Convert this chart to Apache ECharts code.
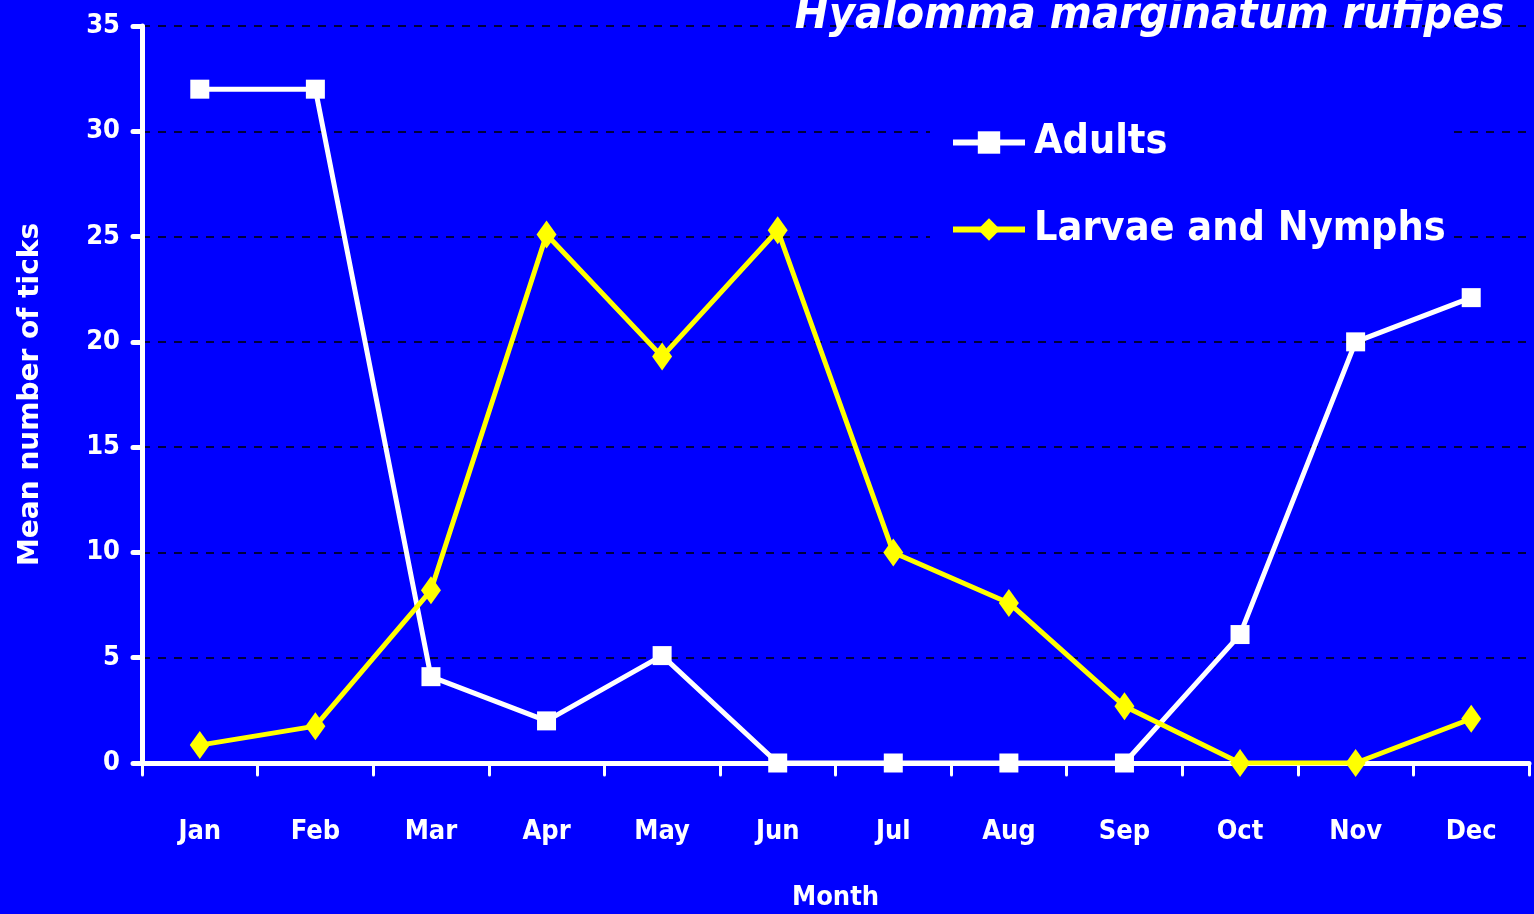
<!DOCTYPE html>
<html>
<head>
<meta charset="utf-8">
<script src="https://cdn.jsdelivr.net/npm/echarts@6/dist/echarts.min.js"></script>
<style>
html,body{margin:0;padding:0;background:#0000FF;}
#c{width:1534px;height:914px;}
</style>
</head>
<body>
<div id="c"></div>
<script>
const months = ['Jan','Feb','Mar','Apr','May','Jun','Jul','Aug','Sep','Oct','Nov','Dec'];
const adults = [32, 32, 4.1, 2.0, 5.1, 0, 0, 0, 0, 6.1, 20, 22.1];
const larvaeNymphs = [0.85, 1.75, 8.2, 25.1, 19.3, 25.3, 10, 7.6, 2.7, 0, 0, 2.1];
const yTicks = {min: 0, max: 35, interval: 5};
const FONT = '"DejaVu Sans", sans-serif';
const COND = '"DejaVu Sans Condensed", "DejaVu Sans", sans-serif';

const chart = echarts.init(document.getElementById('c'));
chart.setOption({
  backgroundColor: '#0000FF',
  animation: false,
  title: {
    text: 'Hyalomma marginatum rufipes',
    right: 25,
    top: -11,
    textStyle: {color: '#fff', fontSize: 45, fontStyle: 'italic', fontWeight: 'bold', fontFamily: COND}
  },
  grid: {left: 142, right: 5, top: 26, bottom: 151, containLabel: false, outerBoundsMode: 'none'},
  legend: {
    orient: 'vertical',
    left: 930,
    top: 114,
    itemGap: 46,
    itemWidth: 72,
    itemHeight: 28,
    backgroundColor: '#0000FF',
    padding: [8, 2, 8, 20],
    textStyle: {color: '#fff', fontSize: 41, fontWeight: 'bold', fontFamily: COND, padding: [0,0,0,4]},
    data: [
      {name: 'Adults', lineStyle: {width: 6, color: '#fff'}},
      {name: 'Larvae and Nymphs', lineStyle: {width: 6, color: '#ffff00'}}
    ]
  },
  xAxis: {
    type: 'category',
    data: months,
    boundaryGap: true,
    name: 'Month',
    nameLocation: 'middle',
    nameGap: 121,
    nameTextStyle: {color: '#fff', fontSize: 27, fontWeight: 'bold', fontFamily: COND},
    axisLine: {lineStyle: {color: '#fff', width: 5, cap: 'round'}},
    axisTick: {show: true, alignWithLabel: false, length: 12, inside: false, lineStyle: {color: '#fff', width: 3, cap: 'round'}},
    axisLabel: {color: '#fff', fontSize: 27, fontWeight: 'bold', fontFamily: COND, margin: 55},
    splitLine: {show: false}
  },
  yAxis: {
    type: 'value',
    min: yTicks.min, max: yTicks.max, interval: yTicks.interval,
    name: 'Mean number of ticks',
    nameLocation: 'middle',
    nameGap: 97,
    nameRotate: 90,
    nameTextStyle: {color: '#fff', fontSize: 28, fontWeight: 'bold', fontFamily: FONT},
    axisLine: {show: true, lineStyle: {color: '#fff', width: 5, cap: 'round'}},
    axisTick: {show: true, length: 9, lineStyle: {color: '#fff', width: 5, cap: 'round'}},
    axisLabel: {color: '#fff', fontSize: 27, fontWeight: 'bold', fontFamily: COND, margin: 22},
    splitLine: {show: true, lineStyle: {color: '#000', width: 1.5, type: [8, 8]}}
  },
  series: [
    {
      name: 'Adults',
      type: 'line',
      data: adults,
      symbol: 'rect',
      symbolSize: 19,
      itemStyle: {color: '#fff'},
      lineStyle: {color: '#fff', width: 5},
      z: 3
    },
    {
      name: 'Larvae and Nymphs',
      type: 'line',
      data: larvaeNymphs,
      symbol: 'diamond',
      symbolSize: [20, 28],
      itemStyle: {color: '#ffff00'},
      lineStyle: {color: '#ffff00', width: 5},
      z: 4
    }
  ]
});
</script>
</body>
</html>
